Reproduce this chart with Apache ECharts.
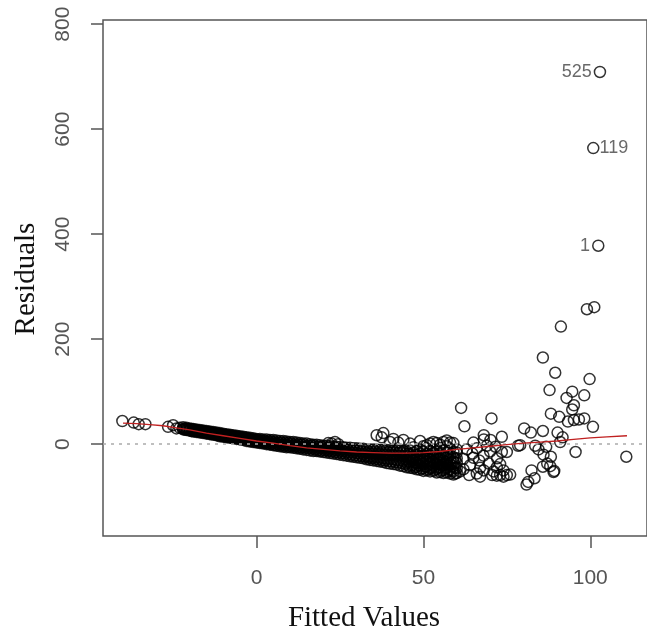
<!DOCTYPE html>
<html>
<head>
<meta charset="utf-8">
<script src="https://cdn.jsdelivr.net/npm/echarts@6/dist/echarts.min.js"></script>
<style>
html,body{margin:0;padding:0;background:#fff;}
#chart{width:647px;height:638px;}
</style>
</head>
<body>
<div id="chart"></div>
<script>
// ---- data ----
const xTicks = [0, 50, 100];
const yTicks = [0, 200, 400, 600, 800];

// isolated points at the far left
const leftPoints = [[-40.2,44],[-36.8,41],[-35.3,38],[-33.3,38],[-26.5,33],[-25,36],[-24,30],[-23,31]];

// dense band: each row = [fitted value, residual, residual, ...]
const bandRows = [
  [-22,32,29,28],[-21.5,30,28],[-21,31,28,27],[-20.5,29,27],[-20,30,27,26],[-19.5,29,25],
  [-19,29,26,24],[-18.5,27,25],[-18,28,26,23],[-17.5,26,24],[-17,27,24,22],[-16.5,25,23],
  [-16,26,23,21],[-15.5,24,22],[-15,25,22,20],[-14.5,23,21],[-14,24,21,19],[-13.5,22,19],
  [-13,23,20,18],[-12.5,21,19],[-12,22,19,17],[-11.5,20,17],[-11,21,18,15],[-10.5,19,16],
  [-10,20,17,14],[-9.5,18,15],[-9,19,16,13],[-8.5,17,14],[-8,18,15,12],[-7.5,16,13],
  [-7,17,14,11],[-6.5,15,12],[-6,16,13,10],[-5.5,14,11],[-5,15,12,9],[-4.5,13,10],
  [-4,14,11,8],[-3.5,12,9],[-3,13,10,6],[-2.5,11,8],[-2,12,9,5],[-1.5,10,6],
  [-1,11,8,4],[-0.5,9,5],[0,10,7,3],[0.5,8,4],[1,10,6,2],[1.5,7,3],
  [2,9,5,1],[2.5,6,2],[3,9,4,0],[3.5,6,1],[4,8,3,-1],[4.5,5,0],
  [5,8,2,-2],[5.5,4,-1],[6,7,1,-3],[6.5,3,-1],[7,6,1,-4],[7.5,3,-2],
  [8,6,0,-5],[8.5,2,-3],[9,5,-1,-6],[9.5,2,-4],[10,4,-2,-6],[10.5,1,-4],
  [11,4,-2,-7],[11.5,0,-5],[12,3,-3,-8],[12.5,0,-6],[13,2,-4,-9],[13.5,-1,-7],
  [14,1,-5,-10],[14.5,-2,-7],[15,1,-5,-11],[15.5,-3,-8],[16,0,-6,-12],[16.5,-3,-9],
  [17,-1,-7,-13],[17.5,-4,-10],[18,-1,-8,-13],[18.5,-5,-11],[19,-2,-8,-14],[19.5,-5,-12],
  [20,-3,-9,-15],[20.5,-6,-12],[21,-3,-10,-16],[21.5,2,-7,-13],[22,-4,-11,-17],[22.5,1,-8,-14],
  [23,-5,-12,-18],[23.5,4,-8,-15],[24,-5,-12,-19],[24.5,0,-9,-16],[25,-6,-13,-20],[25.5,-10,-17],
  [26,-6,-14,-21],[26.5,-10,-18],[27,-7,-15,-22],[27.5,-11,-19],[28,-7,-16,-23],[28.5,-12,-20],
  [29,-8,-16,-24],[29.5,-12,-21],[30,-8,-17,-25],[30.5,-13,-22],[31,-9,-18,-26],[31.5,-14,-23],
  [32,-9,-19,-27],[32.5,-15,-24],[33,-10,-17,-23,-29],[33.5,-14,-26],[34,-10,-18,-24,-30],[34.5,-15,-27],
  [35,-10,-18,-25,-31],[35.5,-14,-28],[36,17,-10,-19,-25,-32],[36.5,-16,-29],[37,-11,-19,-26,-33],[37.5,13,-15,-30],
  [38,21,-11,-20,-27,-34],[38.5,-17,-31],[39,-11,-20,-28,-36],[39.5,-15,-32],[40,4,-12,-21,-28,-37],[40.5,-17,-33],
  [41,10,-12,-21,-29,-38],[41.5,-16,-34],[42,-12,-22,-30,-39],[42.5,3,-18,-35],[43,-13,-22,-31,-41],[43.5,-16,-36],
  [44,8,-13,-23,-32,-42],[44.5,-19,-38],
  [45,-14,-23,-30,-36,-44],[45.5,-18,-33,-41],[46,1,-12,-20,-28,-35,-45],[46.5,-24,-40],
  [47,-6,-16,-25,-31,-39,-46],[47.5,-20,-35,-44],[48,-13,-21,-29,-36,-43,-48],[48.5,-26,-40],
  [49,6,-10,-18,-26,-33,-41,-49],[49.5,-22,-37,-47],[50,-4,-15,-23,-31,-38,-46,-51],[50.5,-28,-43],
  [51,-2,-8,-19,-27,-34,-43,-50],[51.5,-23,-39,-48],[52,1,-13,-22,-30,-37,-46,-52],[52.5,-33,-45],
  [53,4,-10,-17,-26,-34,-41,-51],[53.5,-21,-37,-49],[54,2,-14,-24,-31,-39,-47,-54],[54.5,-29,-45],
  [55,-1,-8,-19,-28,-36,-44,-53],[55.5,-24,-40,-50],[56,4,-12,-23,-31,-40,-49,-55],[56.5,-34,-47],
  [57,7,-4,-17,-26,-35,-45,-54],[57.5,-22,-41,-51],[58,3,-9,-21,-30,-38,-48,-56],[58.5,-35,-50],
  [59,2,-15,-25,-33,-42,-52,-58],[59.5,-28,-45,-56],[60,-10,-27,-36,-46,-55]
];

// sparser cloud between fitted 60 and 76
const midPoints = [
  [61.3,69],[62.3,34],[70.4,49],[68.1,17],[68.1,9],[70.1,8],[73.5,14],[64.7,-18],
  [66.7,-31],[69.6,-37],[72.1,-27],[73.5,-15],[71.6,-5],[63.7,-59],[68.1,-50],[70.6,-59],
  [73,-59],[75,-59],[74,-62],[66,-56],[62,-48],[64,-40],[66,-8],[68,-22],[70,-14],
  [72,-44],[74,-50],[62,-28],[63,-10],[65,3],[67,-45],[69,-3],[71,-52],[73,-38],
  [75,-15],[61,-52],[60,-16],[65,-26],[67,-62],[72,-60],[76,-58],[79,-2]
];

// scattered points on the right
const rightPoints = [
  [99.0,257],[101.2,261],[91.2,224],[85.8,165],[89.5,136],[99.8,124],[87.8,103],[94.6,100],
  [92.9,88],[98.2,93],[95.1,74],[94.6,66],[88.2,58],[90.7,52],[93.3,43],[95.1,46],
  [96.6,47],[98.2,49],[100.8,33],[80.2,30],[82.2,22],[85.8,25],[90.2,22],[91.7,13],
  [78.4,-3],[83.5,-3],[86.8,-5],[91.0,4],[95.6,-15],[110.8,-24],[88.2,-24],[87.1,-37],
  [88.0,-42],[85.8,-43],[89.0,-53],[82.4,-50],[83.3,-65],[81.4,-72],[80.9,-77],[89.2,-51],
  [84.5,-10],[86,-20]
];

// labelled outliers: [fitted, residual, observation id, label side]
const outliers = [[102.9,709,'525','left'],[100.9,564,'119','right'],[102.4,378,'1','left']];

// smoother (red line)
const loessFitted = [-40,-36,-32,-28,-24,-20,-15,-10,-5,0,5,10,15,20,25,30,35,40,45,50,55,60,65,70,75,80,85,90,95,100,105,111];
const loessResid  = [40,39,37,35,31,27,21,16,11,6,2,-3,-7,-10,-13,-15,-16,-17,-17,-16,-14,-10,-7,-4,-1,2,4,6,9,12,14,16];

// ---- build the options ----
const points = [];
leftPoints.forEach(p => points.push(p));
bandRows.forEach(r => { for (let i = 1; i < r.length; i++) points.push([r[0], r[i]]); });
midPoints.forEach(p => points.push(p));
rightPoints.forEach(p => points.push(p));

const outlierData = outliers.map(o => ({
  value: [o[0], o[1]],
  label: { show: true, position: o[3], formatter: o[2], distance: o[3] === 'left' ? 2 : 0 }
}));
const loessData = loessFitted.map((x, i) => [x, loessResid[i]]);

const pointStyle = { color: 'rgba(0,0,0,0)', borderColor: '#000', borderWidth: 1.5 };
const tickFont = { fontFamily: '"Liberation Sans", Arial, sans-serif', fontSize: 21, color: '#555' };

const chart = echarts.init(document.getElementById('chart'), null, { renderer: 'canvas' });
chart.setOption({
  animation: false,
  backgroundColor: '#fff',
  grid: { left: 103, top: 20, right: -10, bottom: 102, show: true, borderColor: '#555', borderWidth: 1.5 },
  xAxis: {
    type: 'value', min: -46, max: 117,
    axisLine: { show: false, onZero: false }, splitLine: { show: false },
    axisTick: { show: true, length: 12, lineStyle: { color: '#555', width: 1.5 }, customValues: xTicks },
    axisLabel: Object.assign({ customValues: xTicks, margin: 32 }, tickFont)
  },
  yAxis: {
    type: 'value', min: -175, max: 808,
    axisLine: { show: false, onZero: false }, splitLine: { show: false },
    axisTick: { show: true, length: 12, lineStyle: { color: '#555', width: 1.5 }, customValues: yTicks },
    axisLabel: Object.assign({ customValues: yTicks, margin: 29, rotate: 90 }, tickFont)
  },
  graphic: [
    { type: 'text', x: 364, y: 618, style: { text: 'Fitted Values', fontFamily: '"Liberation Serif", "Times New Roman", serif', fontSize: 29, fill: '#111', textAlign: 'center', textVerticalAlign: 'middle' } },
    { type: 'text', x: 26, y: 279, rotation: Math.PI / 2, style: { text: 'Residuals', fontFamily: '"Liberation Serif", "Times New Roman", serif', fontSize: 29, fill: '#111', textAlign: 'center', textVerticalAlign: 'middle' } }
  ],
  series: [
    {
      type: 'scatter', data: points, symbol: 'circle', symbolSize: 11, itemStyle: pointStyle, silent: true, z: 3,
      large: false,
      markLine: {
        silent: true, symbol: ['none', 'none'], label: { show: false },
        lineStyle: { color: '#aaa', type: [3, 5], width: 1.5 },
        data: [{ yAxis: 0 }]
      }
    },
    {
      type: 'scatter', data: outlierData, symbol: 'circle', symbolSize: 11, itemStyle: pointStyle, silent: true, z: 3,
      label: { fontFamily: '"Liberation Sans", Arial, sans-serif', fontSize: 18, color: '#444' }
    },
    {
      type: 'line', data: loessData, showSymbol: false, symbol: 'none', silent: true, z: 5,
      lineStyle: { color: '#c02020', width: 1.3 }
    }
  ]
});
</script>
</body>
</html>
